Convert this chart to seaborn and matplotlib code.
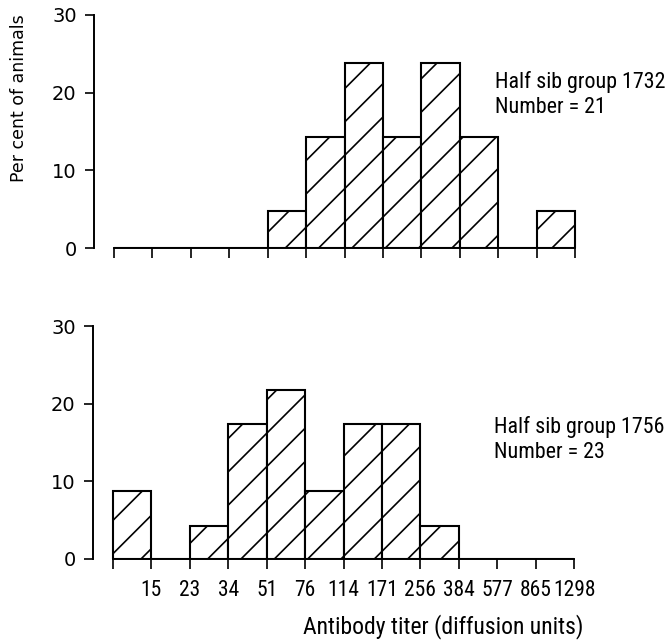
import numpy as np
import pandas as pd
import matplotlib
matplotlib.use("Agg")
import matplotlib.pyplot as plt
from matplotlib import font_manager
import seaborn as sns

sns.set_style("ticks")

# pick a narrow face if the machine has one, the original is set in a condensed type
installed = {f.name for f in font_manager.fontManager.ttflist}
narrow_pref = ["Liberation Sans Narrow", "Roboto Condensed", "PT Sans Narrow", "Archivo Narrow",
               "Fira Sans Condensed", "IBM Plex Sans Condensed", "Encode Sans Condensed",
               "Open Sans Condensed", "Asap Condensed", "Barlow Semi Condensed"]
narrow = [n for n in narrow_pref if n in installed]
fam = narrow[:1] + ["DejaVu Sans"]
scale = 1.0 if narrow else 0.8

plt.rcParams["font.family"] = fam
plt.rcParams["hatch.linewidth"] = 1.2
plt.rcParams["hatch.color"] = "black"
for key in ["text.color", "axes.labelcolor", "xtick.color", "ytick.color", "axes.edgecolor"]:
    plt.rcParams[key] = "black"

# titer class boundaries (diffusion units), first edge unlabeled
edge_labels = ["", "15", "23", "34", "51", "76", "114", "171", "256", "384", "577", "865", "1298"]
# per cent of animals in each titer class
pct_1732 = [0, 0, 0, 0, 4.8, 14.3, 23.8, 14.3, 23.8, 14.3, 0, 4.8]
pct_1756 = [8.7, 0, 4.3, 17.4, 21.7, 8.7, 17.4, 17.4, 4.3, 0, 0, 0]
groups = ["1732", "1756"]
numbers = [21, 23]

W, H = 669, 642
fig = plt.figure(figsize=(W / 100, H / 100), dpi=100)

def px_axes(left, top, right, bottom):
    return fig.add_axes([left / W, 1 - bottom / H, (right - left) / W, (bottom - top) / H])

ax1 = px_axes(94, 15, 577, 248)
ax2 = px_axes(93, 326, 576, 559)

n_bins = len(edge_labels) - 1
edges = np.arange(n_bins + 1)
for ax, pct in [(ax1, pct_1732), (ax2, pct_1756)]:
    df = pd.DataFrame({"titer_class": np.arange(n_bins) + 0.5, "pct": pct})
    sns.histplot(data=df, x="titer_class", weights="pct", binwidth=1,
                 binrange=(0, n_bins), ax=ax, stat="count",
                 facecolor="white", edgecolor="black",
                 linewidth=1.5, alpha=1, hatch="/")
    ax.set_xlim(-0.52, 12.05)
    ax.set_ylim(0, 30)
    ax.set_xlabel("")
    ax.set_ylabel("")
    sns.despine(ax=ax)
    ax.spines["left"].set_bounds(0, 30)
    ax.spines["bottom"].set_bounds(0, n_bins)
    ax.spines["left"].set_linewidth(1.4)
    ax.spines["bottom"].set_linewidth(1.4)
    ax.set_yticks([0, 10, 20, 30])
    ax.set_yticklabels(["0", "10", "20", "30"], family="DejaVu Sans", fontsize=14)
    ax.set_xticks(edges)
    ax.tick_params(axis="y", length=6.5, width=1.2, pad=6)
    ax.tick_params(axis="x", length=7, width=1.2, pad=8)

ax1.set_xticklabels([""] * len(edge_labels))
ax2.set_xticklabels(edge_labels, fontsize=15.5 * scale)

ax1.set_ylabel("Per cent of animals", family="DejaVu Sans", fontsize=12.5)
ax1.yaxis.set_label_coords(-66 / 483, 0.645)

fig.text(443 / W, 1 - 627 / H, "Antibody titer (diffusion units)",
         ha="center", va="center", fontsize=17 * scale)

for (x0, y0), g, n in zip([(495, 88), (494, 433)], groups, numbers):
    fig.text(x0 / W, 1 - y0 / H, f"Half sib group {g}", ha="left",
             va="baseline", fontsize=15.8 * scale)
    fig.text(x0 / W, 1 - (y0 + 25) / H, f"Number = {n}", ha="left",
             va="baseline", fontsize=15.8 * scale)

fig.savefig("out.png", dpi=100)
